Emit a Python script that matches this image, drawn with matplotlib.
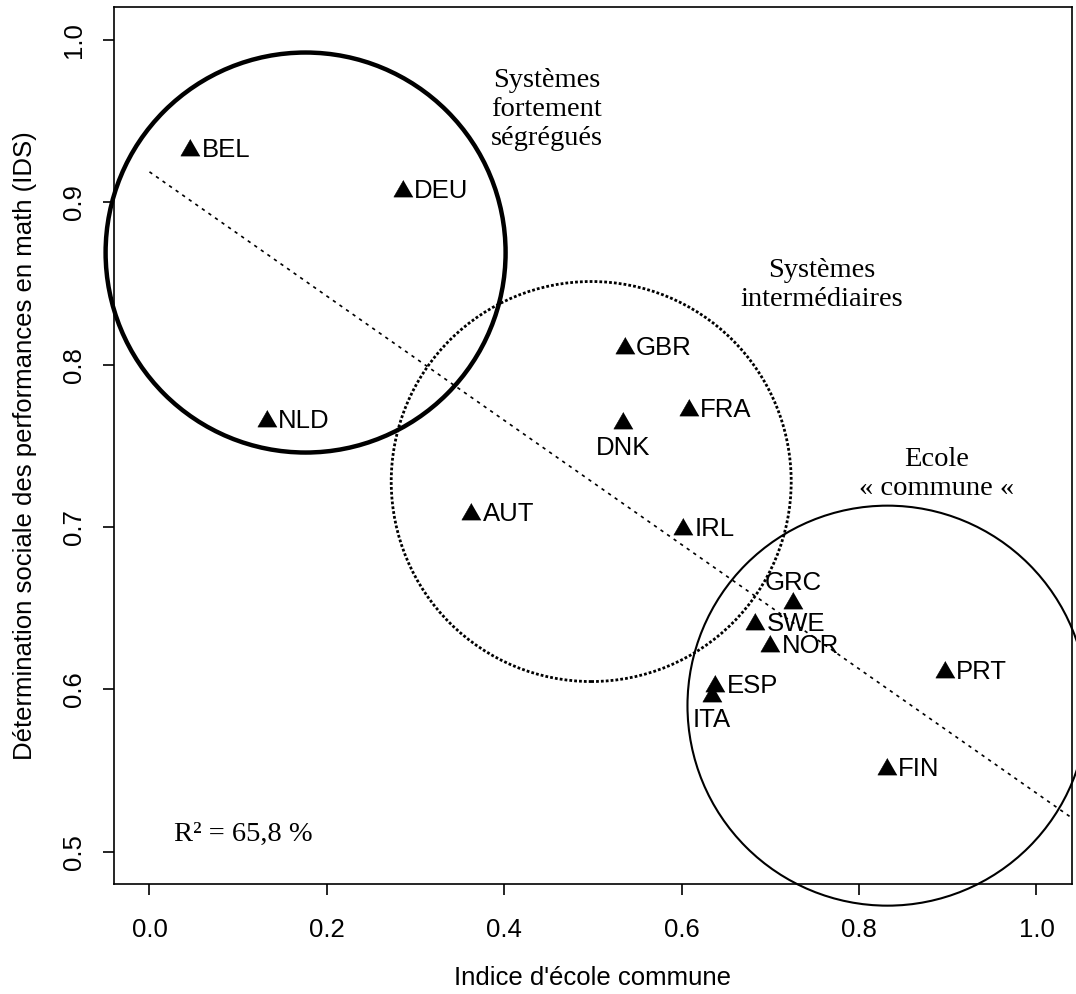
import numpy as np
import matplotlib
matplotlib.use("Agg")
from matplotlib import pyplot as plt
from matplotlib.patches import Ellipse

plt.rcParams["font.family"] = ["Liberation Sans", "DejaVu Sans"]

countries = ["BEL", "DEU", "NLD", "GBR", "DNK", "FRA", "AUT", "IRL",
             "GRC", "SWE", "NOR", "ESP", "ITA", "PRT", "FIN"]
ecole_commune = [0.046, 0.286, 0.132, 0.536, 0.534, 0.608, 0.363, 0.602,
                 0.726, 0.683, 0.700, 0.638, 0.634, 0.897, 0.831]
ids_math = [0.932, 0.907, 0.765, 0.810, 0.764, 0.772, 0.708, 0.699,
            0.653, 0.640, 0.627, 0.602, 0.596, 0.611, 0.551]

# groupes (cercles)
group_names = ["Systèmes\nfortement\nségrégués", "Systèmes\nintermédiaires",
               "Ecole\n« commune «"]
group_x = [0.176, 0.498, 0.832]
group_y = [0.869, 0.728, 0.590]

xticks = [0.0, 0.2, 0.4, 0.6, 0.8, 1.0]
yticks = [0.5, 0.6, 0.7, 0.8, 0.9, 1.0]

fig = plt.figure(figsize=(10.76, 9.94), dpi=100)
ax = fig.add_axes([0.10595, 0.11036, 0.8903, 0.8823])
ax.set_xlim(-0.04, 1.04)
ax.set_ylim(0.48, 1.02)

fs = 18.5
for s in ax.spines.values():
    s.set_linewidth(1.2)
ax.tick_params(direction="out", length=8, width=1.2, labelsize=fs)
ax.tick_params(axis="x", pad=16)
ax.tick_params(axis="y", pad=12.5)
ax.set_xticks(xticks)
ax.set_xticklabels(["%.1f" % v for v in xticks])
ax.set_yticks(yticks)
ax.set_yticklabels(["%.1f" % v for v in yticks], rotation=90, va="center")

ax.set_xlabel("Indice d'école commune", fontsize=fs, va="center")
ax.xaxis.set_label_coords(0.5, -0.1068)
ax.set_ylabel("Détermination sociale des performances en math (IDS)",
              fontsize=fs, va="center")
ax.yaxis.set_label_coords(-0.093, 0.5)

# triangles pleins (pch 17)
tri = [(0, 1), (-0.866, -0.5), (0.866, -0.5)]
ax.plot(ecole_commune, ids_math, linestyle="none", marker=tri,
        markersize=16, color="black", markeredgewidth=0.4)

below = ["DNK", "ITA"]
above = ["GRC"]
for name, x, y in zip(countries, ecole_commune, ids_math):
    if name in below:
        ax.annotate(name, (x, y), xytext=(0, -9), textcoords="offset points",
                    ha="center", va="top", fontsize=fs)
    elif name in above:
        ax.annotate(name, (x, y), xytext=(0, 6), textcoords="offset points",
                    ha="center", va="bottom", fontsize=fs)
    else:
        ax.annotate(name, (x, y), xytext=(8, 0), textcoords="offset points",
                    ha="left", va="center", fontsize=fs)

# droite de regression
slope, intercept = np.polyfit(ecole_commune, ids_math, 1)
xs = np.array([0.0, 1.04])
ax.plot(xs, intercept + slope * xs, color="black", linewidth=1.2,
        linestyle=(0, (2.0, 2.8)))

# cercles (ronds a l'ecran)
xpix = 958.0 / 1.08
ypix = 877.0 / 0.54
rx = 200.0 / xpix
ry = rx * xpix / ypix
styles = [dict(linewidth=3.2, linestyle="-"),
          dict(linewidth=2.0, linestyle=(0, (1, 0.75))),
          dict(linewidth=1.5, linestyle="-")]
for cx, cy, st in zip(group_x, group_y, styles):
    ax.add_patch(Ellipse((cx, cy), 2 * rx, 2 * ry, fill=False,
                         edgecolor="black", clip_on=False, **st))

serif = "Liberation Serif"
ax.text(0.448, 0.9354, group_names[0], ha="center", va="baseline",
        fontsize=20.5, family=serif, linespacing=1.2)
ax.text(0.758, 0.8359, group_names[1], ha="center", va="baseline",
        fontsize=20.5, family=serif, linespacing=1.2)
ax.text(0.887, 0.720, group_names[2], ha="center", va="baseline",
        fontsize=20.5, family=serif, linespacing=1.2)
ax.text(0.028, 0.5066, "R² = 65,8 %", ha="left", va="baseline",
        fontsize=20.5, family=serif)

fig.savefig("out.png", dpi=100)
